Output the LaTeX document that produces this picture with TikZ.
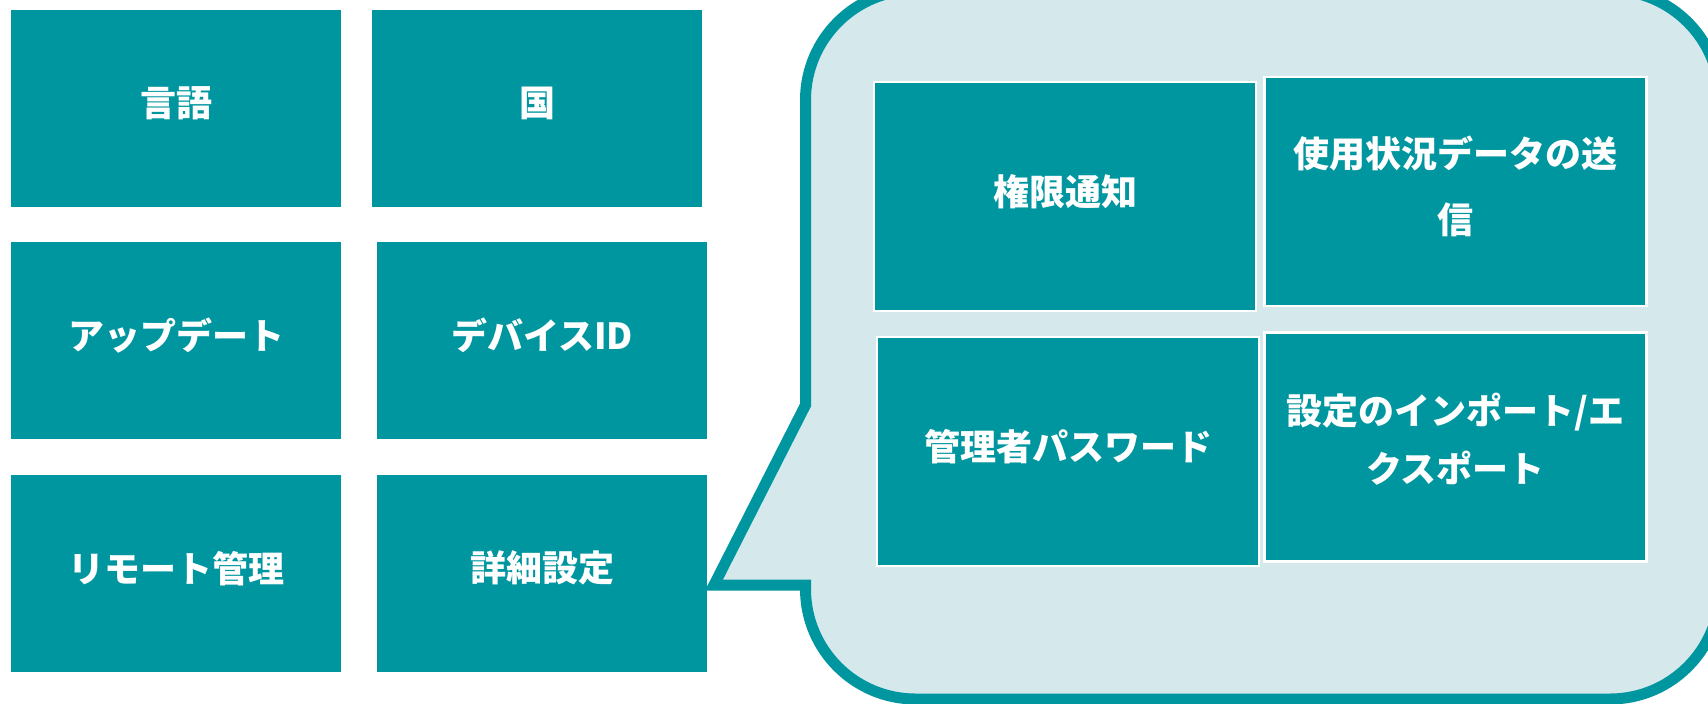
\documentclass[tikz,border=0pt]{standalone}
\usepackage{fontspec}
\setmainfont{Noto Sans CJK JP}
\definecolor{teal1}{RGB}{0,150,160}
\definecolor{calloutfill}{RGB}{213,232,235}
\newcommand{\liftup}[2][2.6pt]{\raisebox{#1}[\height][\depth]{#2}}
\tikzset{
  outerbox/.style={fill=teal1, draw=none, minimum width=165pt, minimum height=98.5pt, inner sep=0pt,
    text=white, font=\fontsize{18}{30}\selectfont\bfseries, align=center},
  innerbox/.style={fill=teal1, draw=white, line width=1.25pt, minimum width=191pt, minimum height=114.5pt,
    inner sep=0pt, text=white, font=\fontsize{18}{30}\selectfont\bfseries, align=center},
  calloutshape/.style={fill=calloutfill, draw=teal1, line width=5.5pt, line join=miter}
}
\begin{document}
\begin{tikzpicture}[x=0.5pt, y=-0.5pt]
\clip (0,0) rectangle (1708,703);
\fill[white] (0,0) rectangle (1708,703);
% left grid
\node[outerbox] (gengo)  at (176,108.5) {\liftup{言語}};
\node[outerbox] (kuni)   at (537,108.5) {\liftup{国}};
\node[outerbox] (update) at (176,340.5) {\liftup{アップデート}};
\node[outerbox] (device) at (542,340.5) {\liftup{デバイスID}};
\node[outerbox] (remote) at (176,573.5) {\liftup{リモート管理}};
\node[outerbox] (shosai) at (542,573.5) {\liftup{詳細設定}};
% callout
\coordinate (tip) at (714,585);
\draw[calloutshape] (tip) -- (805.5,405) -- (805.5,100)
  arc[start angle=180, end angle=90, radius=55pt] -- (1610,-10)
  arc[start angle=90, end angle=0, radius=55pt] -- (1720,589)
  arc[start angle=0, end angle=-90, radius=55pt] -- (915.5,699)
  arc[start angle=270, end angle=180, radius=55pt] -- (805.5,585) -- cycle;
% inner boxes
\node[innerbox] (kengen) at (1065,196.5) {\liftup{権限通知}};
\node[innerbox, font=\fontsize{18}{33}\selectfont\bfseries] (shiyou) at (1455.5,191.5)
  {\liftup[2.75pt]{使用状況データの送}\\\liftup[2.75pt]{信}};
\node[innerbox] (kanri)  at (1068,451.5) {\liftup{管理者パスワード}};
\node[innerbox, font=\fontsize{18}{29}\selectfont\bfseries] (settei) at (1455.5,447)
  {\liftup[3.75pt]{設定のインポート/エ}\\\liftup[3.75pt]{クスポート}};
\end{tikzpicture}
\end{document}
